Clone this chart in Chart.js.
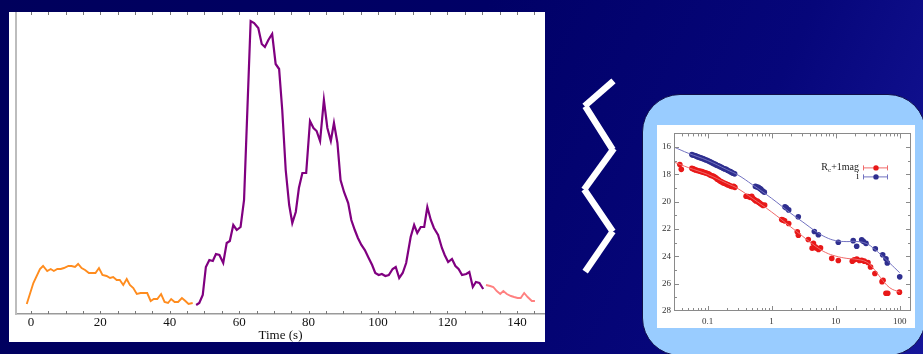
<!DOCTYPE html>
<html>
<head>
<meta charset="utf-8">
<script src="https://cdn.jsdelivr.net/npm/chart.js@4.4.1/dist/chart.umd.min.js"></script>
<style>
  html, body { margin: 0; padding: 0; }
  body {
    width: 923px; height: 354px; overflow: hidden; position: relative;
    background: linear-gradient(115deg, #00005c 0%, #000066 45%, #06067a 75%, #16169a 100%);
  }
  #lcPanel { position: absolute; left: 9px; top: 12px; width: 536px; height: 330px; background: #fff; }
  #afterglowBox {
    position: absolute; left: 642px; top: 94px; width: 284px; height: 262px;
    background: #99ccff; border: 1px solid #10104a; border-radius: 38px; box-sizing: border-box;
  }
  #agPanel { position: absolute; left: 657px; top: 125px; width: 258px; height: 203px; background: #fff; }
  canvas { display: block; }
  svg { position: absolute; left: 0; top: 0; }
</style>
</head>
<body>
<div id="lcPanel"><canvas id="lc" width="536" height="330"></canvas></div>
<svg width="923" height="354">
  <g stroke="#ffffff" stroke-width="6.5" stroke-linecap="square" fill="none">
    <line x1="611" y1="83" x2="587" y2="104"/>
    <line x1="587" y1="109" x2="611" y2="147"/>
    <line x1="612" y1="151" x2="586" y2="187"/>
    <line x1="586" y1="192" x2="611" y2="229"/>
    <line x1="611" y1="234" x2="587" y2="269"/>
  </g>
</svg>
<div id="afterglowBox"></div>
<div id="agPanel"><canvas id="ag" width="258" height="203"></canvas></div>

<script>
// ---- Prompt-emission light curve: time (s) and count rate (arbitrary units) ----
const tOrange = [-1.2,0.7,2.6,3.5,4.7,5.7,6.6,7.6,8.6,9.5,10.8,11.7,12.7,13.6,14.6,15.6,16.7,17.7,18.6,19.6,
  20.6,21.8,22.8,23.7,24.7,25.6,26.6,27.6,28.5,29.5,30.5,31.6,32.6,33.5,34.5,35.4,36.4,37.5,38.5,39.5,
  40.4,41.4,42.4,43.5,44.5,45.4,46.6];
const cOrange = [10,31,45,48,43,45,43,45,45,46,48,48,47,50,46,44,41,41,41,46,
  39,38,36,37,34,34,29,35,29,26,20,21,21,21,13,15,15,20,12,11,
  15,12,12,16,13,10,11];

const tPurple = [47.6,48.5,49.5,50.4,51.4,52.4,53.3,54.3,55.4,56.4,57.3,58.3,59.3,60.4,61.4,63.3,64.3,65.5,66.5,67.4,
  68.4,69.5,70.5,71.5,72.4,73.4,74.4,75.3,76.3,77.2,78.2,79.3,80.4,81.4,82.3,83.3,84.4,85.4,86.4,87.3,
  88.3,89.2,90.2,91.4,92.3,93.3,94.2,95.2,96.2,97.3,98.3,99.2,100.2,101.1,102.1,103.1,104.2,105.1,106.1,107.1,
  108.1,109.4,110.4,111.3,112.3,113.3,114.2,115.2,116.1,117.3,118.4,119.2,120.2,121.3,122.3,123.2,124.2,125.4,126.3,127.3,
  128.2,129.2,130.3];
const cPurple = [9,11,19,47,54,53,60,59,51,71,73,89,84,87,114,293,291,286,270,267,
  274,280,250,245,204,144,109,91,102,126,141,141,193,186,183,173,214,186,173,191,
  171,134,122,111,94,84,76,69,64,56,49,41,39,40,38,39,45,47,36,41,
  51,77,89,81,87,87,107,94,86,79,66,59,52,55,48,45,39,40,42,27,
  32,31,25];

const tPink = [131.1,132.3,133.2,134.2,135.2,136.1,137.1,138.3,139.2,140.2,141.1,142.1,143.1,144.3,145.2];
const cPink = [29,28,27,23,20,23,20,18,17,16,16,21,17,13,13];

const timeTicks = [0,20,40,60,80,100,120,140];

// ---- Afterglow: time since burst (days) and magnitude ----
const rcTime = [0.037,0.039,0.057,0.060,0.063,0.066,0.070,0.074,0.078,0.082,
  0.086,0.090,0.095,0.100,0.105,0.110,0.116,0.122,0.128,0.135,
  0.142,0.150,0.158,0.166,0.175,0.185,0.195,0.205,0.217,0.230,
  0.243,0.256,0.268,0.40,0.43,0.46,0.49,0.51,0.54,0.57,
  0.60,0.63,0.66,0.70,0.74,0.78,1.44,1.52,1.60,1.85,
  2.52,2.62,3.74,4.30,4.50,4.80,5.00,5.40,5.80,8.7,
  11.0,18.2,19.5,21.4,23.5,25.5,28,32,35,41,
  53,55,61,65,99];
const rcMag = [17.28,17.63,17.55,17.60,17.65,17.68,17.72,17.75,17.78,17.80,
  17.84,17.87,17.90,17.93,17.97,18.05,18.10,18.12,18.18,18.25,
  18.35,18.42,18.50,18.55,18.62,18.65,18.70,18.75,18.80,18.86,
  18.90,18.88,18.95,19.60,19.62,19.68,19.60,19.75,19.85,19.95,
  19.95,20.05,20.12,20.20,20.28,20.25,21.30,21.35,21.40,21.60,
  22.20,22.45,22.77,23.40,23.05,23.30,23.40,23.50,23.38,24.15,
  24.30,24.35,24.25,24.20,24.30,24.28,24.35,24.45,24.78,25.25,
  25.85,25.75,26.70,26.70,26.62];

const iTime = [0.057,0.060,0.063,0.066,0.069,0.072,0.076,0.080,0.084,0.088,
  0.093,0.098,0.103,0.108,0.114,0.120,0.126,0.133,0.140,0.148,
  0.156,0.165,0.175,0.185,0.196,0.205,0.215,0.228,0.240,0.252,
  0.265,0.56,0.59,0.62,0.65,0.68,0.72,0.77,1.62,1.70,
  1.85,2.61,4.65,5.37,11.0,18.8,21.3,25.5,27.0,29.8,
  41.6,54.2,61,64,100];
const iMag = [16.55,16.60,16.62,16.66,16.70,16.73,16.77,16.80,16.84,16.88,
  16.93,16.97,17.02,17.06,17.12,17.17,17.22,17.27,17.33,17.38,
  17.43,17.48,17.55,17.60,17.62,17.70,17.75,17.80,17.87,17.92,
  17.96,18.88,18.92,18.95,19.02,19.08,19.20,19.30,20.38,20.45,
  20.60,21.10,22.18,22.42,22.97,22.85,23.26,22.78,22.90,23.05,
  23.45,23.88,24.17,24.48,25.50];

// model fits
const modelTime = [0.03,0.05,0.1,0.2,0.3,0.5,1,2,3,5,7,10,15,20,30,40,50,70,100];
const rcModelMag = [17.1,17.5,18.0,18.65,19.05,19.75,20.75,21.85,22.5,23.3,23.72,23.98,24.15,24.2,24.4,24.95,25.55,26.3,26.62];
const iModelMag = [16.0,16.45,16.98,17.65,18.05,18.75,19.75,20.85,21.45,22.2,22.6,22.85,22.92,22.9,23.05,23.45,23.85,24.5,25.2];

const magTicks = [16,18,20,22,24,26,28];
const dayTicks = [0.1,1,10,100];

const SERIF = "'Liberation Serif', 'DejaVu Serif', serif";
const pairs = (xs, ys) => xs.map((x, i) => ({ x, y: ys[i] }));

// inward tick marks along the top and bottom of the light-curve frame
const lcTickMarks = {
  id: 'lcTickMarks',
  afterDraw(chart) {
    const { ctx, chartArea: a, scales: { x } } = chart;
    ctx.save();
    ctx.strokeStyle = '#777';
    ctx.lineWidth = 1;
    for (let t = 0; t <= 145; t += 5) {
      const px = Math.round(x.getPixelForValue(t)) + 0.5;
      ctx.beginPath();
      ctx.moveTo(px, a.top); ctx.lineTo(px, a.top + 3);
      ctx.moveTo(px, a.bottom); ctx.lineTo(px, a.bottom - 3);
      ctx.stroke();
    }
    ctx.restore();
  }
};

new Chart(document.getElementById('lc'), {
  type: 'line',
  data: {
    datasets: [
      { data: pairs(tOrange, cOrange), borderColor: '#ff8c1e', borderWidth: 1.9 },
      { data: pairs(tPurple, cPurple), borderColor: '#800080', borderWidth: 2.2 },
      { data: pairs(tPink, cPink), borderColor: '#ff8080', borderWidth: 1.9 }
    ]
  },
  options: {
    responsive: false,
    devicePixelRatio: 1,
    animation: false,
    layout: { padding: 0 },
    elements: { point: { radius: 0 }, line: { tension: 0 } },
    plugins: { legend: { display: false }, tooltip: { enabled: false } },
    scales: {
      x: {
        type: 'linear', min: -4.3, max: 148.1,
        afterBuildTicks(s) { s.ticks = timeTicks.map(v => ({ value: v })); },
        afterFit(s) { s.height = 28; },
        grid: { display: false, drawTicks: false },
        border: { display: true, color: '#9a9a9a', width: 1.5 },
        ticks: { font: { family: SERIF, size: 13 }, color: '#111', padding: 1, maxRotation: 0 },
        title: { display: true, text: 'Time (s)', font: { family: SERIF, size: 13 }, color: '#111', padding: { top: 0, bottom: -1.5 } }
      },
      y: {
        type: 'linear', min: 0, max: 302,
        afterFit(s) { s.width = 7; },
        grid: { display: false, drawTicks: false },
        border: { display: true, color: '#bdbdbd', width: 2 },
        ticks: { display: false }
      }
    }
  },
  plugins: [lcTickMarks]
});

// frame, mirrored tick marks and legend of the afterglow panel
const agFrame = {
  id: 'agFrame',
  afterDraw(chart) {
    const { ctx, chartArea: a, scales: { x, y } } = chart;
    ctx.save();
    ctx.strokeStyle = '#8a8a8a';
    ctx.lineWidth = 1;
    ctx.strokeRect(Math.round(a.left) + 0.5, Math.round(a.top) + 0.5,
      Math.round(a.right - a.left) - 1, Math.round(a.bottom - a.top) - 1);
    ctx.beginPath();
    for (let e = -2; e <= 2; e++) {
      for (let k = 1; k <= 9; k++) {
        const v = k * Math.pow(10, e);
        if (v < x.min || v > x.max) continue;
        const px = Math.round(x.getPixelForValue(v)) + 0.5;
        const len = k === 1 ? 5 : 3;
        ctx.moveTo(px, a.bottom); ctx.lineTo(px, a.bottom - len);
        ctx.moveTo(px, a.top); ctx.lineTo(px, a.top + len);
      }
    }
    for (let m = 16; m <= 27; m++) {
      const py = Math.round(y.getPixelForValue(m)) + 0.5;
      const len = m % 2 === 0 ? 5 : 3;
      ctx.moveTo(a.left, py); ctx.lineTo(a.left + len, py);
      ctx.moveTo(a.right, py); ctx.lineTo(a.right - len, py);
    }
    ctx.stroke();

    // legend
    const entries = [
      { line: '#f06a6a', dot: '#e81818', yy: a.top + 34, rc: true },
      { line: '#7272c0', dot: '#2f2f8f', yy: a.top + 43, rc: false }
    ];
    const textRight = a.left + 185;
    const x0 = a.left + 189, x1 = a.left + 214, xm = a.left + 202;
    ctx.fillStyle = '#222';
    ctx.textBaseline = 'middle';
    entries.forEach(en => {
      ctx.textAlign = 'right';
      if (en.rc) {
        ctx.font = `10px ${SERIF}`;
        const tail = '+1mag';
        const wTail = ctx.measureText(tail).width;
        ctx.fillText(tail, textRight, en.yy);
        ctx.font = `7px ${SERIF}`;
        const wSub = ctx.measureText('c').width;
        ctx.fillText('c', textRight - wTail, en.yy + 3);
        ctx.font = `10px ${SERIF}`;
        ctx.fillText('R', textRight - wTail - wSub, en.yy);
      } else {
        ctx.font = `10px ${SERIF}`;
        ctx.fillText('i', textRight, en.yy);
      }
      ctx.strokeStyle = en.line;
      ctx.lineWidth = 1;
      ctx.beginPath();
      ctx.moveTo(x0, en.yy + 0.5); ctx.lineTo(x1, en.yy + 0.5);
      ctx.moveTo(x0 + 0.5, en.yy - 2); ctx.lineTo(x0 + 0.5, en.yy + 3);
      ctx.moveTo(x1 - 0.5, en.yy - 2); ctx.lineTo(x1 - 0.5, en.yy + 3);
      ctx.stroke();
      ctx.fillStyle = en.dot;
      ctx.beginPath();
      ctx.arc(xm, en.yy + 0.5, 2.7, 0, Math.PI * 2);
      ctx.fill();
      ctx.fillStyle = '#222';
    });
    ctx.restore();
  }
};

new Chart(document.getElementById('ag'), {
  type: 'scatter',
  data: {
    datasets: [
      { data: pairs(modelTime, iModelMag), showLine: true, borderColor: '#7272c0', borderWidth: 1, pointRadius: 0, tension: 0.4 },
      { data: pairs(modelTime, rcModelMag), showLine: true, borderColor: '#f06a6a', borderWidth: 1, pointRadius: 0, tension: 0.4 },
      { data: pairs(rcTime, rcMag), pointRadius: 2.8, pointBackgroundColor: '#e81818', pointBorderWidth: 0 },
      { data: pairs(iTime, iMag), pointRadius: 2.8, pointBackgroundColor: '#2f2f8f', pointBorderWidth: 0 }
    ]
  },
  options: {
    responsive: false,
    devicePixelRatio: 1,
    animation: false,
    layout: { padding: { top: 4, right: 4, left: 0, bottom: 0 } },
    plugins: { legend: { display: false }, tooltip: { enabled: false } },
    scales: {
      x: {
        type: 'logarithmic', min: 0.03, max: 150,
        afterBuildTicks(s) { s.ticks = dayTicks.map(v => ({ value: v })); },
        afterFit(s) { s.height = 17; },
        grid: { display: false, drawTicks: false },
        border: { display: false },
        ticks: { font: { family: SERIF, size: 9 }, color: '#333', padding: 5, maxRotation: 0,
          callback: v => String(v) }
      },
      y: {
        type: 'linear', reverse: true, min: 15, max: 28,
        afterBuildTicks(s) { s.ticks = magTicks.map(v => ({ value: v })); },
        afterFit(s) { s.width = 17; },
        grid: { display: false, drawTicks: false },
        border: { display: false },
        ticks: { font: { family: SERIF, size: 9 }, color: '#333', padding: 3 }
      }
    }
  },
  plugins: [agFrame]
});
</script>
</body>
</html>
